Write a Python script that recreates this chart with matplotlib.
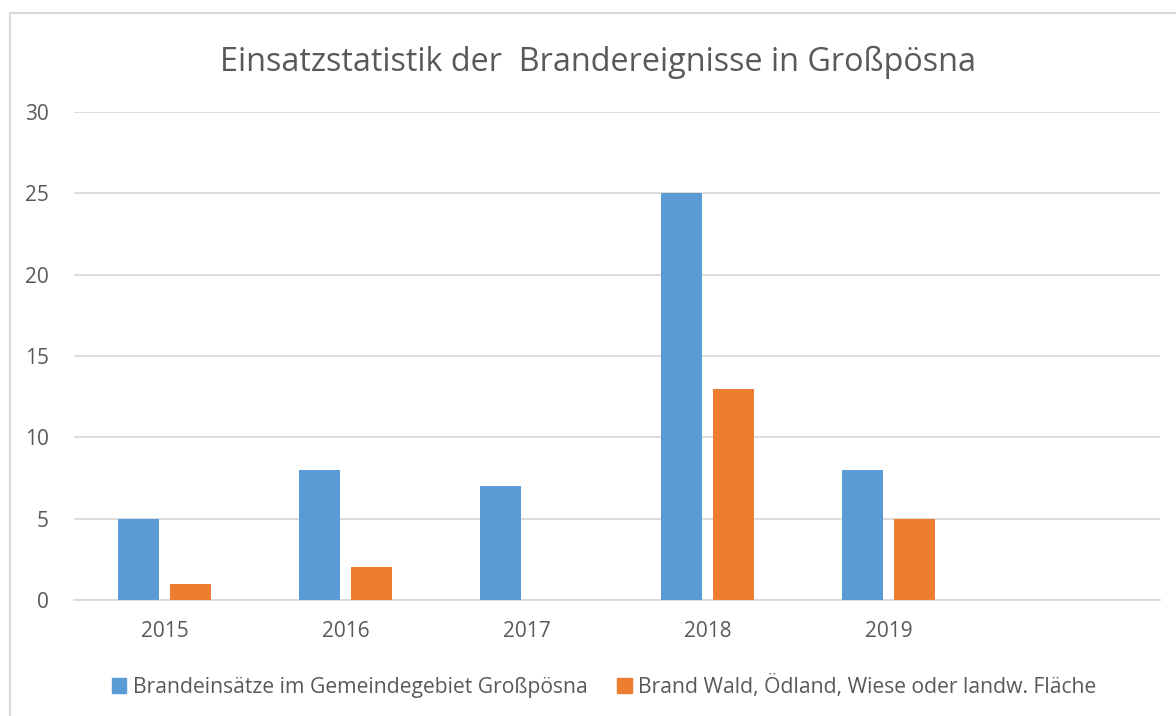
import matplotlib
matplotlib.use("Agg")
import matplotlib.pyplot as plt
from matplotlib.patches import Rectangle, Patch
import numpy as np

plt.rcParams['font.family'] = ['Open Sans', 'DejaVu Sans']

categories = ["2015", "2016", "2017", "2018", "2019", ""]
brand_gemeinde = [5, 8, 7, 25, 8, np.nan]
brand_wald = [1, 2, 0, 13, 5, np.nan]
series_names = ["Brandeinsätze im Gemeindegebiet Großpösna",
                "Brand Wald, Ödland, Wiese oder landw. Fläche"]
title = "Einsatzstatistik der  Brandereignisse in Großpösna"
yticks = [0, 5, 10, 15, 20, 25, 30]

W, H = 1176, 716
fig = plt.figure(figsize=(W/100, H/100), dpi=100)
fig.patches.append(Rectangle((10/W, -0.2), 1.2, 1.2 - 13/H, transform=fig.transFigure,
                             fill=False, edgecolor="#d9d9d9", linewidth=1.5))

ax = fig.add_axes([74/W, 1 - 600/H, (1160-74)/W, (600-112)/H])
x = np.arange(len(categories))
bw = 0.226
off = 0.142
c1, c2 = "#5b9bd5", "#ed7d31"
ax.bar(x - off, brand_gemeinde, bw, color=c1, zorder=3)
ax.bar(x + off, brand_wald, bw, color=c2, zorder=3)

ax.set_xlim(-0.5, len(categories) - 0.5)
ax.set_ylim(0, 30)
ax.set_yticks(yticks)
ax.set_xticks(x)
ax.set_xticklabels(categories)
ax.yaxis.grid(True, color="#d9d9d9", linewidth=1.3, zorder=0)
for s in ["top", "right", "left"]:
    ax.spines[s].set_visible(False)
ax.spines["bottom"].set_color("#d9d9d9")
ax.spines["bottom"].set_linewidth(1.3)
ax.tick_params(axis="both", length=0, labelsize=15, colors="#595959")
ax.tick_params(axis="y", pad=18)
ax.tick_params(axis="x", pad=15)

fig.text(598/W, 1 - 62/H, title, ha="center", va="center", fontsize=23.3, color="#595959")

handles = [Patch(color=c1), Patch(color=c2)]
fig.legend(handles, series_names, loc="center", bbox_to_anchor=(604/W, 1 - 686/H),
           ncol=2, frameon=False, fontsize=15.2, labelcolor="#595959",
           handlelength=0.7, handleheight=0.7, handletextpad=0.3, columnspacing=1.4)

fig.savefig("out.png", dpi=100)
